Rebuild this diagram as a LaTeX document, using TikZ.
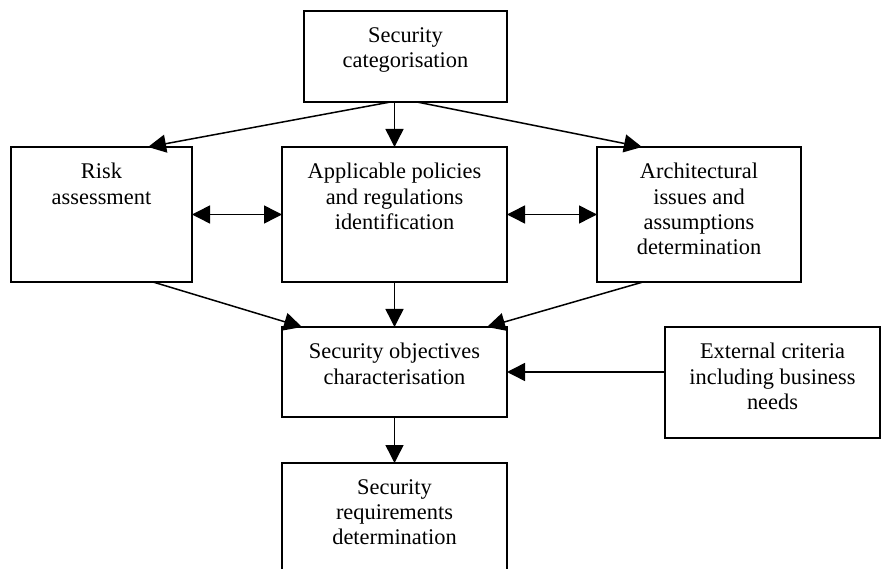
\documentclass[tikz,border=0pt]{standalone}
\usepackage{fontspec}
\setmainfont{Liberation Serif}
\usetikzlibrary{arrows.meta}
\begin{document}
\begin{tikzpicture}[x=1pt,y=-1pt,
  box/.style={draw, line width=1.5pt, rectangle, inner sep=0pt, outer sep=0pt},
  lbl/.style={anchor=north, inner sep=0pt, align=center,
    font=\fontsize{22.4}{25.3}\selectfont},
  tip/.style={Triangle[length=18pt,width=18pt]},
  flow/.style={line width=1.5pt, -{Triangle[length=18pt,width=18pt]}},
  both/.style={line width=1.5pt,
    {Triangle[length=18pt,width=18pt]}-{Triangle[length=18pt,width=18pt]}}]
\useasboundingbox (0,0) rectangle (881,569);
\clip (0,0) rectangle (881,569);

% boxes
\node[box, minimum width=203pt, minimum height=91pt]  (cat)  at (405.5,56.5) {};
\node[box, minimum width=181pt, minimum height=135pt] (risk) at (101.5,214.5) {};
\node[box, minimum width=225pt, minimum height=135pt] (mid)  at (394.5,214.5) {};
\node[box, minimum width=204pt, minimum height=135pt] (arch) at (699,214.5) {};
\node[box, minimum width=225pt, minimum height=90pt]  (obj)  at (394.5,372) {};
\node[box, minimum width=215pt, minimum height=111pt] (ext)  at (772.5,382.5) {};
\node[box, minimum width=225pt, minimum height=137pt] (req)  at (394.5,531.5) {};

% labels, set near the top of each box
\node[lbl] (cat-t)  at ([yshift=-16pt]cat.north)  {Security\\categorisation};
\node[lbl] (risk-t) at ([yshift=-16pt]risk.north) {Risk\\assessment};
\node[lbl] (mid-t)  at ([yshift=-16pt]mid.north)  {Applicable policies\\and regulations\\identification};
\node[lbl] (arch-t) at ([yshift=-16pt]arch.north) {Architectural\\issues and\\assumptions\\determination};
\node[lbl] (obj-t)  at ([yshift=-16pt]obj.north)  {Security objectives\\characterisation};
\node[lbl] (ext-t)  at ([yshift=-16pt]ext.north)  {External criteria\\including business\\needs};
\node[lbl] (req-t)  at ([yshift=-16pt]req.north)  {Security\\requirements\\determination};

% connectors
\draw[flow] ([xshift=-15pt]cat.south) -- ([xshift=46.5pt]risk.north);
\draw[flow] (cat.south -| mid.north) -- (mid.north);
\draw[flow] ([xshift=11.5pt]cat.south) -- ([xshift=-57pt]arch.north);
\draw[both] (risk.east) -- (mid.west);
\draw[both] (mid.east) -- (arch.west);
\draw[flow] ([xshift=51.5pt]risk.south) -- ([xshift=20pt]obj.north west);
\draw[flow] (mid.south) -- (obj.north);
\draw[flow] ([xshift=-56pt]arch.south) -- ([xshift=-20pt]obj.north east);
\draw[flow] (ext.west |- obj.east) -- (obj.east);
\draw[flow] (obj.south) -- (req.north);
\end{tikzpicture}
\end{document}
